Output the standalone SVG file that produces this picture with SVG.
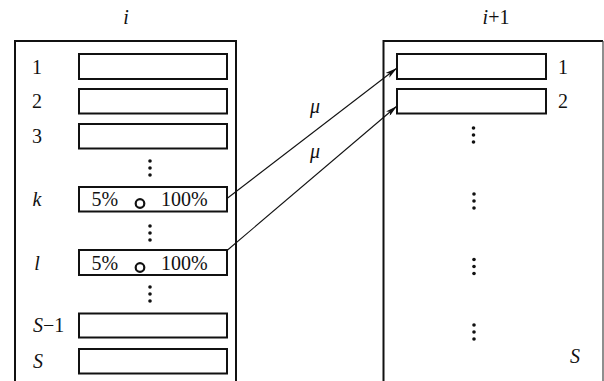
<svg xmlns="http://www.w3.org/2000/svg" width="604" height="381" viewBox="0 0 604 381">
  <style>
    .frame { fill: none; stroke: #111; stroke-width: 2; }
    .cell { fill: #fff; stroke: #111; stroke-width: 2; }
    text { font-family: "Liberation Serif", "Times New Roman", serif; font-size: 20px; fill: #111; }
    .it { font-style: italic; }
    .dot { fill: #111; }
    .ring { fill: none; stroke: #111; stroke-width: 2.2; }
    .link { stroke: #111; stroke-width: 1.1; fill: none; }
  </style>
  <defs>
    <marker id="arrow" viewBox="0 0 12 6" refX="12" refY="3" markerWidth="12" markerHeight="6" markerUnits="userSpaceOnUse" orient="auto">
      <path d="M0,0 L12,3 L0,6 L3,3 Z" fill="#111"/>
    </marker>
    <g id="vdots">
      <circle cx="0" cy="0" r="1.8" class="dot"/>
      <circle cx="0" cy="7" r="1.8" class="dot"/>
      <circle cx="0" cy="14" r="1.8" class="dot"/>
    </g>
  </defs>
  <rect width="604" height="381" fill="#fff"/>

  <!-- stage i -->
  <g id="stage-i">
    <path class="frame" d="M15,381 V41 H236 V381"/>
    <text class="it" x="126" y="24" text-anchor="middle">i</text>
    <g id="i-row1">
      <rect class="cell" x="79" y="54" width="148" height="25"/>
      <text x="37" y="74" text-anchor="middle">1</text>
    </g>
    <g id="i-row2">
      <rect class="cell" x="79" y="89" width="148" height="24.5"/>
      <text x="37" y="108" text-anchor="middle">2</text>
    </g>
    <g id="i-row3">
      <rect class="cell" x="79" y="124" width="148" height="24.5"/>
      <text x="37" y="143" text-anchor="middle">3</text>
    </g>
    <use href="#vdots" x="150" y="161"/>
    <g id="i-row-k">
      <rect class="cell" x="79" y="187" width="148" height="24.5"/>
      <text class="it" x="37" y="206" text-anchor="middle">k</text>
      <text x="91.5" y="206">5%</text>
      <circle class="ring" cx="140" cy="203.5" r="4.3"/>
      <text x="161" y="206">100%</text>
    </g>
    <use href="#vdots" x="150" y="226"/>
    <g id="i-row-l">
      <rect class="cell" x="79" y="250" width="148" height="25"/>
      <text class="it" x="37" y="270" text-anchor="middle">l</text>
      <text x="91.5" y="270">5%</text>
      <circle class="ring" cx="140" cy="267.5" r="4.3"/>
      <text x="161" y="270">100%</text>
    </g>
    <use href="#vdots" x="150" y="287"/>
    <g id="i-row-s1">
      <rect class="cell" x="79" y="313.5" width="148" height="24"/>
      <text x="33" y="332"><tspan class="it">S</tspan>−1</text>
    </g>
    <g id="i-row-s">
      <rect class="cell" x="79" y="349" width="148" height="24.5"/>
      <text class="it" x="38" y="368" text-anchor="middle">S</text>
    </g>
  </g>

  <!-- stage i+1 -->
  <g id="stage-i1">
    <path class="frame" d="M383.5,381 V41 H603"/>
    <path d="M603,41 V381" stroke="#444" stroke-width="1.2" fill="none"/>
    <text x="496" y="24" text-anchor="middle"><tspan class="it">i</tspan>+1</text>
    <g id="i1-row1">
      <rect class="cell" x="397" y="54" width="149" height="25"/>
      <text x="563" y="74" text-anchor="middle">1</text>
    </g>
    <g id="i1-row2">
      <rect class="cell" x="397" y="89" width="149" height="24.5"/>
      <text x="563" y="108" text-anchor="middle">2</text>
    </g>
    <use href="#vdots" x="473.5" y="128"/>
    <use href="#vdots" x="474" y="194"/>
    <use href="#vdots" x="474" y="259.5"/>
    <use href="#vdots" x="474" y="325"/>
    <text class="it" x="575" y="363" text-anchor="middle">S</text>
  </g>

  <!-- transitions -->
  <g id="connectors">
    <line class="link" x1="227" y1="198.5" x2="397" y2="68" marker-end="url(#arrow)"/>
    <line class="link" x1="227" y1="250.5" x2="397" y2="106" marker-end="url(#arrow)"/>
    <text class="it" x="315" y="113" text-anchor="middle">μ</text>
    <text class="it" x="315" y="158" text-anchor="middle">μ</text>
  </g>
</svg>
